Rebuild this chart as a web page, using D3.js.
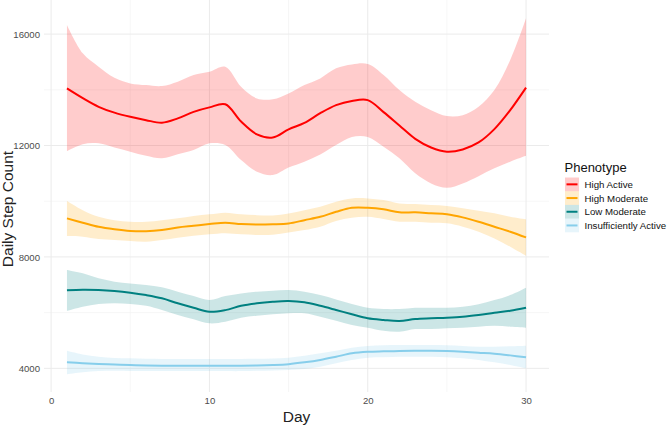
<!DOCTYPE html>
<html>
<head>
<meta charset="utf-8">
<script src="https://cdn.jsdelivr.net/npm/d3@7"></script>
<style>
  body { margin: 0; background: #fff; }
  svg { display: block; font-family: "Liberation Sans", Arial, sans-serif; }
</style>
</head>
<body>
<svg width="669" height="426"></svg>
<script>
  // days on the x axis
  const days = [1, 2, 3, 4, 5, 6, 7, 8, 9, 10, 11, 12, 13, 14, 15,
                16, 17, 18, 19, 20, 21, 22, 23, 24, 25, 26, 27, 28, 29, 30];

  // High Active
  const highActiveMean = [14050, 13700, 13390, 13180, 13030, 12910, 12820, 12975, 13210, 13370,
                          13480, 12860, 12400, 12290, 12580, 12810, 13160, 13450, 13600, 13630,
                          13200, 12720, 12240, 11930, 11780, 11860, 12110, 12590, 13270, 14080];
  const highActiveUpper = [16330, 15310, 14830, 14430, 14230, 14170, 14135, 14290, 14530, 14650,
                           14830, 14110, 13690, 13660, 13870, 14170, 14410, 14770, 14910, 14925,
                           14530, 13990, 13570, 13270, 13060, 13090, 13390, 13990, 15070, 16570];
  const highActiveLower = [11800, 12050, 12080, 11930, 11780, 11630, 11540, 11690, 11840, 12080,
                           12020, 11480, 11060, 10940, 11210, 11420, 11680, 12020, 12310, 12310,
                           11960, 11540, 11000, 10640, 10480, 10640, 10900, 11180, 11420, 11630];

  // High Moderate
  const highModMean = [9385, 9230, 9080, 8990, 8930, 8920, 8965, 9060, 9120, 9180,
                       9230, 9180, 9160, 9170, 9200, 9320, 9440, 9620, 9765, 9765,
                       9710, 9600, 9600, 9565, 9530, 9420, 9265, 9085, 8905, 8700];
  const highModUpper = [10010, 9680, 9440, 9320, 9260, 9260, 9320, 9385, 9470, 9530,
                        9590, 9530, 9500, 9490, 9560, 9680, 9800, 9980, 10100, 10100,
                        10040, 9920, 9900, 9860, 9830, 9745, 9660, 9565, 9440, 9350];
  const highModLower = [8750, 8725, 8640, 8605, 8570, 8545, 8605, 8690, 8760, 8810,
                        8850, 8810, 8790, 8800, 8880, 8965, 9085, 9290, 9405, 9440,
                        9360, 9265, 9265, 9230, 9205, 9085, 8905, 8665, 8365, 8040];

  // Low Moderate
  const lowModMean = [6800, 6820, 6810, 6775, 6715, 6630, 6515, 6335, 6175, 6030,
                      6090, 6245, 6335, 6390, 6415, 6370, 6245, 6095, 5940, 5795,
                      5735, 5700, 5770, 5795, 5815, 5850, 5915, 5995, 6070, 6175];
  const lowModUpper = [7530, 7410, 7230, 7110, 7050, 6990, 6910, 6750, 6595, 6450,
                       6595, 6690, 6750, 6785, 6810, 6750, 6630, 6475, 6310, 6175,
                       6130, 6130, 6175, 6175, 6175, 6210, 6300, 6450, 6630, 6895];
  const lowModLower = [6060, 6210, 6310, 6335, 6310, 6245, 6095, 5915, 5760, 5615,
                       5675, 5815, 5890, 5940, 5975, 5975, 5850, 5710, 5555, 5460,
                       5350, 5315, 5410, 5410, 5435, 5460, 5495, 5530, 5495, 5460];

  // Insufficiently Active
  const insuffMean = [4215, 4185, 4155, 4135, 4120, 4105, 4095, 4093, 4093, 4093,
                      4093, 4093, 4100, 4118, 4150, 4215, 4300, 4415, 4540, 4595,
                      4610, 4620, 4630, 4630, 4620, 4595, 4560, 4525, 4465, 4395];
  const insuffUpper = [4630, 4500, 4415, 4370, 4360, 4340, 4335, 4335, 4335, 4335,
                       4335, 4335, 4340, 4350, 4380, 4450, 4540, 4630, 4740, 4800,
                       4825, 4835, 4840, 4835, 4825, 4800, 4775, 4775, 4790, 4810];
  const insuffLower = [3785, 3855, 3900, 3915, 3905, 3900, 3900, 3900, 3900, 3900,
                       3900, 3900, 3910, 3920, 3940, 3975, 4055, 4180, 4300, 4380,
                       4395, 4415, 4420, 4415, 4395, 4360, 4300, 4215, 4120, 4000];

  const phenotypes = ["High Active", "High Moderate", "Low Moderate", "Insufficiently Active"];
  const colors = ["#FF0000", "#FFA500", "#008080", "#87CEEB"];

  const xMajor = [0, 10, 20, 30];
  const xMinor = [5, 15, 25];
  const yMajor = [4000, 8000, 12000, 16000];
  const yMinor = [6000, 10000, 14000];

  // build series from the arrays
  const series = [
    { name: phenotypes[0], mean: highActiveMean, lo: highActiveLower, hi: highActiveUpper },
    { name: phenotypes[1], mean: highModMean, lo: highModLower, hi: highModUpper },
    { name: phenotypes[2], mean: lowModMean, lo: lowModLower, hi: lowModUpper },
    { name: phenotypes[3], mean: insuffMean, lo: insuffLower, hi: insuffUpper }
  ].map((s, i) => ({
    name: s.name,
    color: colors[i],
    values: days.map((d, j) => ({ day: d, mean: s.mean[j], lo: s.lo[j], hi: s.hi[j] }))
  }));

  // panel
  const panel = { left: 44, right: 549, top: 0, bottom: 392 };

  const x = d3.scaleLinear()
    .domain([-0.45, 31.45])
    .range([panel.left, panel.right]);

  const y = d3.scaleLinear()
    .domain([3150, 17225])
    .range([panel.bottom, panel.top]);

  const svg = d3.select("svg");

  // grid lines (minor first, then major)
  const grid = svg.append("g");
  grid.selectAll(".ymin").data(yMinor).enter().append("line")
    .attr("x1", panel.left).attr("x2", panel.right)
    .attr("y1", d => y(d)).attr("y2", d => y(d))
    .attr("stroke", "#f0f0f0").attr("stroke-width", 0.6);
  grid.selectAll(".xmin").data(xMinor).enter().append("line")
    .attr("y1", panel.top).attr("y2", panel.bottom)
    .attr("x1", d => x(d)).attr("x2", d => x(d))
    .attr("stroke", "#f0f0f0").attr("stroke-width", 0.6);
  grid.selectAll(".ymaj").data(yMajor).enter().append("line")
    .attr("x1", panel.left).attr("x2", panel.right)
    .attr("y1", d => y(d)).attr("y2", d => y(d))
    .attr("stroke", "#ebebeb").attr("stroke-width", 1);
  grid.selectAll(".xmaj").data(xMajor).enter().append("line")
    .attr("y1", panel.top).attr("y2", panel.bottom)
    .attr("x1", d => x(d)).attr("x2", d => x(d))
    .attr("stroke", "#ebebeb").attr("stroke-width", 1);

  // ribbons and lines, smoothed
  const smooth = d3.curveCatmullRom.alpha(0.5);

  const area = d3.area()
    .x(d => x(d.day))
    .y0(d => y(d.lo))
    .y1(d => y(d.hi))
    .curve(smooth);

  const line = d3.line()
    .x(d => x(d.day))
    .y(d => y(d.mean))
    .curve(smooth);

  svg.selectAll(".ribbon")
    .data(series)
    .enter().append("path")
    .attr("class", "ribbon")
    .attr("d", d => area(d.values))
    .attr("fill", d => d.color)
    .attr("fill-opacity", 0.2);

  svg.selectAll(".mean")
    .data(series)
    .enter().append("path")
    .attr("class", "mean")
    .attr("d", d => line(d.values))
    .attr("fill", "none")
    .attr("stroke", d => d.color)
    .attr("stroke-width", 2);

  // axes
  const yAxis = svg.append("g")
    .attr("transform", `translate(${panel.left},0)`)
    .call(d3.axisLeft(y).tickValues(yMajor).tickSize(0).tickPadding(4).tickFormat(d3.format("d")));
  const xAxis = svg.append("g")
    .attr("transform", `translate(0,${panel.bottom})`)
    .call(d3.axisBottom(x).tickValues(xMajor).tickSize(0).tickPadding(5).tickFormat(d3.format("d")));
  [xAxis, yAxis].forEach(a => {
    a.select(".domain").remove();
    a.selectAll("text")
      .attr("fill", "#4d4d4d")
      .style("font-size", "9.6px")
      .style("font-family", "'Liberation Sans', Arial, sans-serif");
  });

  // axis titles
  svg.append("text")
    .attr("x", (panel.left + panel.right) / 2)
    .attr("y", 422)
    .attr("text-anchor", "middle")
    .style("font-size", "15.5px")
    .attr("fill", "#222")
    .text("Day");

  svg.append("text")
    .attr("transform", "translate(13,209) rotate(-90)")
    .attr("text-anchor", "middle")
    .style("font-size", "15.5px")
    .attr("fill", "#222")
    .text("Daily Step Count");

  // legend
  const legend = svg.append("g").attr("transform", "translate(565,0)");
  legend.append("text")
    .attr("x", -0.5)
    .attr("y", 171.5)
    .style("font-size", "13px")
    .attr("fill", "#111")
    .text("Phenotype");

  const keyH = 13.7;
  const rows = legend.selectAll(".key")
    .data(series)
    .enter().append("g")
    .attr("class", "key")
    .attr("transform", (d, i) => `translate(0,${177.5 + i * keyH})`);
  rows.append("rect")
    .attr("width", 14).attr("height", keyH)
    .attr("fill", d => d.color)
    .attr("fill-opacity", 0.2);
  rows.append("line")
    .attr("x1", 1.5).attr("x2", 12.5)
    .attr("y1", keyH / 2).attr("y2", keyH / 2)
    .attr("stroke", d => d.color)
    .attr("stroke-width", 2);
  rows.append("text")
    .attr("x", 19.5)
    .attr("y", keyH / 2 + 3.5)
    .style("font-size", "9.7px")
    .attr("fill", "#111")
    .text(d => d.name);
</script>
</body>
</html>
